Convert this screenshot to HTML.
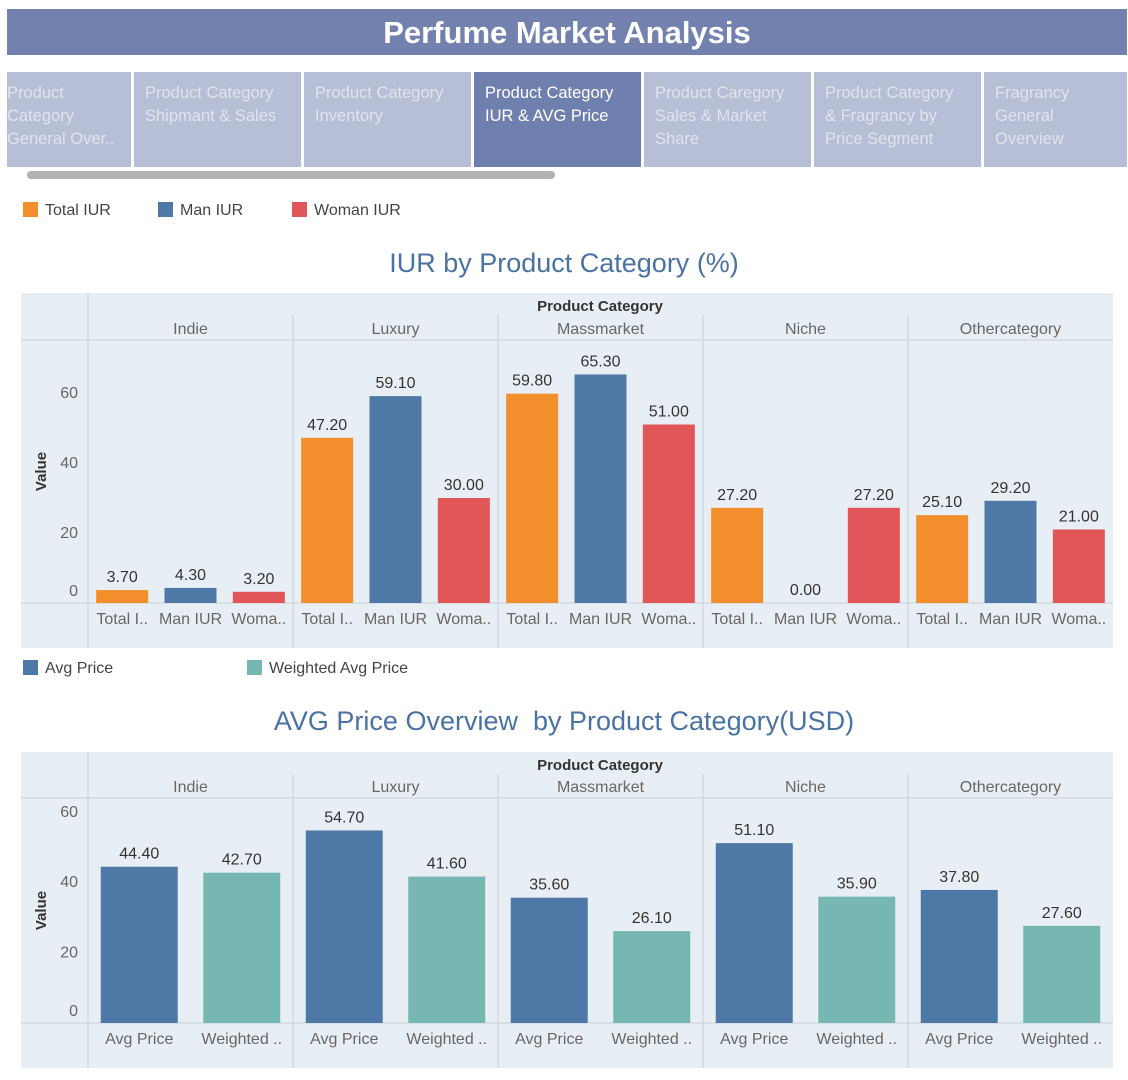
<!DOCTYPE html>
<html><head><meta charset="utf-8">
<style>
body{margin:0;width:1128px;height:1080px;background:#fff;font-family:"Liberation Sans",sans-serif;overflow:hidden;position:relative}
.title{position:absolute;left:7px;top:9px;width:1120px;height:46px;background:#7281ae;color:#fff;font-size:31px;font-weight:bold;text-align:center;line-height:48px}
.tab{position:absolute;top:72px;height:95px;background:#b6bfd6;color:#dfe4ef;font-size:16.5px;line-height:23px;padding:10px 0 0 11px;box-sizing:border-box;overflow:hidden}
.tab.active{background:#7080ae;color:#fff}
.scroll{position:absolute;left:27px;top:171px;width:528px;height:8px;border-radius:4px;background:#b3b3b3}
.leg{position:absolute;font-size:16px;color:#444}
.leg i{display:inline-block;width:15px;height:15px;vertical-align:-2px;margin-right:7px}
.ctitle{position:absolute;left:0;width:1128px;text-align:center;font-size:27px;color:#4a72a3}
svg{position:absolute;left:0;top:0}
</style></head><body>
<div class="title">Perfume Market Analysis</div>
<div class="tab" style="left:7px;width:124px;padding-left:0">Product<br>Category<br>General Over..</div>
<div class="tab" style="left:134px;width:167px">Product Category<br>Shipmant &amp; Sales</div>
<div class="tab" style="left:304px;width:167px">Product Category<br>Inventory</div>
<div class="tab active" style="left:474px;width:167px">Product Category<br>IUR &amp; AVG Price</div>
<div class="tab" style="left:644px;width:167px">Product Caregory<br>Sales &amp; Market<br>Share</div>
<div class="tab" style="left:814px;width:167px">Product Category<br>&amp; Fragrancy by<br>Price Segment</div>
<div class="tab" style="left:984px;width:143px">Fragrancy<br>General<br>Overview</div>
<div class="scroll"></div>

<div class="leg" style="left:23px;top:202px"><i style="background:#f28e2b"></i>Total IUR</div>
<div class="leg" style="left:158px;top:202px"><i style="background:#4e79a7"></i>Man IUR</div>
<div class="leg" style="left:292px;top:202px"><i style="background:#e15759"></i>Woman IUR</div>
<div class="ctitle" style="top:248px">IUR by Product Category (%)</div>

<div class="leg" style="left:23px;top:660px"><i style="background:#4e79a7"></i>Avg Price</div>
<div class="leg" style="left:247px;top:660px"><i style="background:#76b7b2"></i>Weighted Avg Price</div>
<div class="ctitle" style="top:706px">AVG Price Overview&nbsp; by Product Category(USD)</div>

<svg id="svg" width="1128" height="1080"></svg>
<script>
const categories=["Indie","Luxury","Massmarket","Niche","Othercategory"];
const iurMeasures=["Total I..","Man IUR","Woma.."];
const iurColors=["#f28e2b","#4e79a7","#e15759"];
const totalIUR=[3.7,47.2,59.8,27.2,25.1];
const manIUR=[4.3,59.1,65.3,0.0,29.2];
const womanIUR=[3.2,30.0,51.0,27.2,21.0];
const iurTicks=[0,20,40,60];
const priceMeasures=["Avg Price","Weighted .."];
const priceColors=["#4e79a7","#76b7b2"];
const avgPrice=[44.4,54.7,35.6,51.1,37.8];
const weightedAvgPrice=[42.7,41.6,26.1,35.9,27.6];
const priceTicks=[0,20,40,60];

const NS="http://www.w3.org/2000/svg";
const svg=document.getElementById('svg');
function mk(tag,attrs,txt){const e=document.createElementNS(NS,tag);for(const k in attrs)e.setAttribute(k,attrs[k]);if(txt!==undefined)e.textContent=txt;svg.appendChild(e);return e;}

function chart(o){
  const L=21,R=1113,AX=88,pw=(R-AX)/categories.length;
  const bg=mk('rect',{x:L,y:o.top,width:R-L,height:o.bottom-o.top,fill:'#e8eff4'});
  
  
  const y=v=>o.zero-v*o.scale;
  mk('line',{x1:AX,y1:o.top,x2:AX,y2:o.bottom,stroke:'#c8d0d6'});
  mk('line',{x1:L,y1:o.sep,x2:R,y2:o.sep,stroke:'#c8d0d6'});
  mk('line',{x1:L,y1:o.zero,x2:R,y2:o.zero,stroke:'#c8d0d6'});
  const h=mk('text',{x:600,y:o.top+18,'text-anchor':'middle','font-size':15,'font-weight':'bold',fill:'#333'},'Product Category');
  
  
  const ya=mk('text',{x:0,y:0,transform:`translate(46,${(o.sep+o.zero)/2}) rotate(-90)`,'text-anchor':'middle','font-size':15,'font-weight':'bold',fill:'#333'},'Value');
  
  
  o.ticks.forEach(t=>{
    const ty=t===0?o.zero-7:y(t)+5;
    const tl=mk('text',{x:78,y:ty,'text-anchor':'end','font-size':16,fill:'#666'},t);
    
    
  });
  categories.forEach((c,i)=>{
    const px=AX+i*pw;
    if(i>0)mk('line',{x1:px,y1:o.top+22,x2:px,y2:o.bottom,stroke:'#c8d0d6'});
    const ct=mk('text',{x:px+pw/2,y:o.sep-6,'text-anchor':'middle','font-size':16,fill:'#666'},c);
    
    
    const slot=pw/o.series.length;
    o.series.forEach((s,j)=>{
      const v=s[i],cx=px+slot*(j+0.5);
      const b=mk('rect',{x:cx-o.bw/2,y:y(v),width:o.bw,height:v*o.scale,fill:o.colors[j]});
      
      
      const vl=mk('text',{x:cx,y:y(v)-8,'text-anchor':'middle','font-size':16,fill:'#333'},v.toFixed(2));
      
      
      const xl=mk('text',{x:cx,y:o.zero+21,'text-anchor':'middle','font-size':16,fill:'#666'},o.measures[j]);
      
      
    });
  });
}
chart({name:'iur-chart',top:293,bottom:648,sep:340,zero:603,scale:3.5,bw:52,ticks:iurTicks,series:[totalIUR,manIUR,womanIUR],colors:iurColors,measures:iurMeasures});
chart({name:'price-chart',top:752,bottom:1068,sep:798,zero:1023,scale:3.52,bw:77,ticks:priceTicks,series:[avgPrice,weightedAvgPrice],colors:priceColors,measures:priceMeasures});
</script>
</body></html>
